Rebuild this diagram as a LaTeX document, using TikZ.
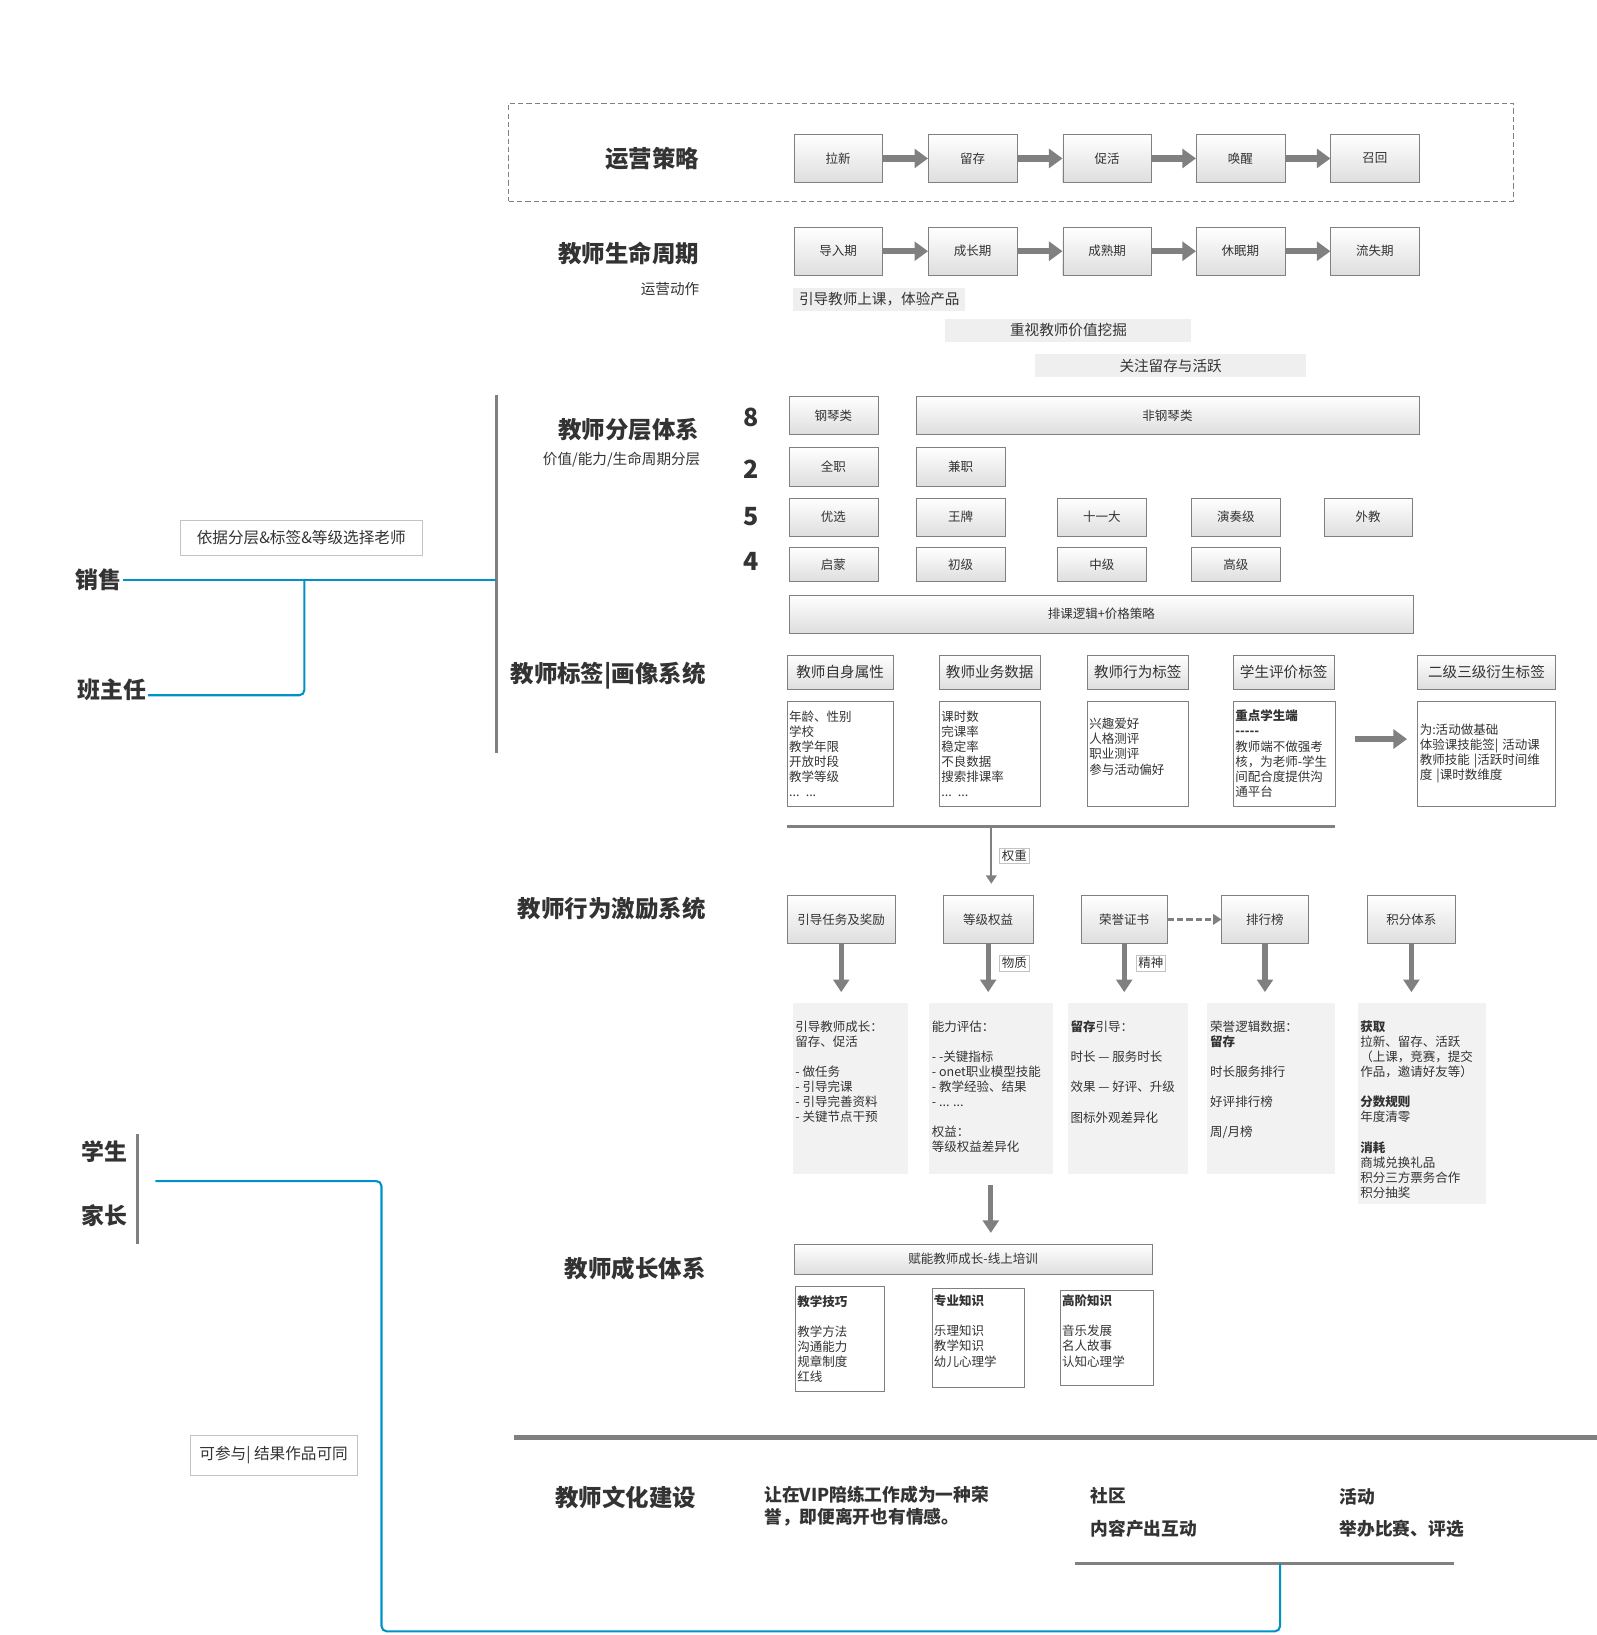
\documentclass[tikz,border=0pt]{standalone}
\usepackage{fontspec}
\setmainfont{Noto Sans CJK SC}
\usetikzlibrary{arrows.meta}
\begin{document}
\begin{tikzpicture}[x=1pt,y=-1pt,
    every node/.style={text=tfarch_text},
    titletext/.style={anchor=east,inner sep=0pt,font=\fontsize{22.5}{26}\selectfont\bfseries},
    subtext/.style={anchor=east,inner sep=0pt,font=\fontsize{14}{16}\selectfont},
    sidetext/.style={inner sep=1pt,font=\fontsize{22}{26}\selectfont\bfseries},
    numtext/.style={inner sep=0pt,font=\fontsize{24}{28}\selectfont\bfseries},
    culttext/.style={anchor=west,align=left,inner sep=0pt,font=\fontsize{17}{21}\selectfont\bfseries},
    stagebox/.style={shape=rectangle,draw=tfarch_line,top color=white,bottom color=tfarch_shade,minimum width=85pt,minimum height=46pt,font=\fontsize{12}{14}\selectfont},
    gridbox/.style={stagebox,minimum height=37pt},
    tagbox/.style={stagebox,minimum height=33pt,font=\fontsize{14}{16}\selectfont},
    trainbox/.style={stagebox,minimum height=28pt},
    bandbox/.style={shape=rectangle,fill=tfarch_band,minimum height=22pt,font=\fontsize{14}{16}\selectfont},
    contbox/.style={shape=rectangle,draw=tfarch_line,fill=white,align=left,inner sep=2pt,font=\fontsize{12}{14.5}\selectfont},
    panelbox/.style={shape=rectangle,fill=tfarch_panel,inner sep=0pt},
    paneltext/.style={anchor=north west,align=left,inner sep=0pt,font=\fontsize{12}{14.5}\selectfont},
    notebox/.style={shape=rectangle,draw=tfarch_note,fill=white,inner sep=2pt,font=\fontsize{12}{14}\selectfont},
    dashframe/.style={shape=rectangle,draw=tfarch_line,line width=1pt,dash pattern=on 5pt off 3pt},
    flowarrow/.style={draw=tfarch_line,line width=6pt,-{Triangle[width=18pt,length=13pt]}},
    downarrow/.style={draw=tfarch_line,line width=5pt,-{Triangle[width=15pt,length=12pt]}},
    thinarrow/.style={draw=tfarch_line,line width=2pt,-{Triangle[width=10pt,length=8pt]}},
    dasharrow/.style={draw=tfarch_line,line width=2.5pt,dash pattern=on 6pt off 3pt,-{Triangle[width=10pt,length=8pt]}},
    busline/.style={draw=tfarch_line,line width=2.5pt},
    hubline/.style={draw=tfarch_line,line width=3pt},
    blueline/.style={draw=tfarch_blue,line width=2pt,rounded corners=5pt}]
    \definecolor{tfarch_text}{RGB}{51,51,51}
    \definecolor{tfarch_line}{RGB}{128,128,128}
    \definecolor{tfarch_shade}{RGB}{222,222,222}
    \definecolor{tfarch_band}{RGB}{239,239,239}
    \definecolor{tfarch_panel}{RGB}{242,242,242}
    \definecolor{tfarch_blue}{RGB}{0,145,200}
    \definecolor{tfarch_note}{RGB}{195,195,195}
    \useasboundingbox (0,0) rectangle (1532,1568.5);

    % section titles
    \node[titletext] (opstitle)   at (671,152)  {运营策略};
    \node[titletext] (lifetitle)  at (671,243)  {教师生命周期};
    \node[subtext]   (lifesub)    at (671,277)  {运营动作};
    \node[titletext] (layertitle) at (671,412)  {教师分层体系};
    \node[subtext]   (layersub)   at (672,441)  {价值/能力/生命周期分层};
    \node[titletext] (tagtitle)   at (677,648)  {教师标签|画像系统};
    \node[titletext] (inctitle)   at (677,872)  {教师行为激励系统};
    \node[titletext] (growtitle)  at (677,1217) {教师成长体系};
    \node[titletext] (culttitle)  at (668,1437) {教师文化建设};

    % operations strategy
    \node[dashframe,minimum width=964pt,minimum height=94pt] (opsframe) at (970,146) {};
    \node[stagebox] (opsA) at (804,152)  {拉新};
    \node[stagebox] (opsB) at (933,152)  {留存};
    \node[stagebox] (opsC) at (1062,152) {促活};
    \node[stagebox] (opsD) at (1190,152) {唤醒};
    \node[stagebox] (opsE) at (1319,152) {召回};
    \draw[flowarrow] (opsA) -- (opsB);
    \draw[flowarrow] (opsB) -- (opsC);
    \draw[flowarrow] (opsC) -- (opsD);
    \draw[flowarrow] (opsD) -- (opsE);

    % teacher life cycle
    \node[stagebox] (lifeA) at (804,241)  {导入期};
    \node[stagebox] (lifeB) at (933,241)  {成长期};
    \node[stagebox] (lifeC) at (1062,241) {成熟期};
    \node[stagebox] (lifeD) at (1190,241) {休眠期};
    \node[stagebox] (lifeE) at (1319,241) {流失期};
    \draw[flowarrow] (lifeA) -- (lifeB);
    \draw[flowarrow] (lifeB) -- (lifeC);
    \draw[flowarrow] (lifeC) -- (lifeD);
    \draw[flowarrow] (lifeD) -- (lifeE);
    \node[bandbox,minimum width=165pt] (actA) at (843.5,287) {引导教师上课，体验产品};
    \node[bandbox,minimum width=236pt] (actB) at (1025,317)  {重视教师价值挖掘};
    \node[bandbox,minimum width=260pt] (actC) at (1123,351)  {关注留存与活跃};

    % layers
    \node[numtext] (levelA) at (721,400) {8};
    \node[numtext] (levelB) at (721,450) {2};
    \node[numtext] (levelC) at (721,496) {5};
    \node[numtext] (levelD) at (721,539) {4};
    \node[gridbox] (pianoA) at (799.5,398.5) {钢琴类};
    \node[gridbox,minimum width=482pt] (pianoB) at (1120,398.5) {非钢琴类};
    \node[gridbox] (fullA) at (799.5,447.5) {全职};
    \node[gridbox] (fullB) at (921.5,447.5) {兼职};
    \node[gridbox,minimum height=36pt] (rankA) at (799.5,496) {优选};
    \node[gridbox,minimum height=36pt] (rankB) at (921.5,496) {王牌};
    \node[gridbox,minimum height=36pt] (rankC) at (1057,496)  {十一大};
    \node[gridbox,minimum height=36pt] (rankD) at (1185.5,496) {演奏级};
    \node[gridbox,minimum height=36pt] (rankE) at (1312.5,496) {外教};
    \node[gridbox,minimum height=33pt] (stepA) at (799.5,541.5) {启蒙};
    \node[gridbox,minimum height=33pt] (stepB) at (921.5,541.5) {初级};
    \node[gridbox,minimum height=33pt] (stepC) at (1057,541.5)  {中级};
    \node[gridbox,minimum height=33pt] (stepD) at (1185.5,541.5) {高级};
    \node[gridbox,minimum width=599pt,minimum height=36pt] (pricing) at (1056.5,589) {排课逻辑+价格策略};

    % tags and portrait
    \node[tagbox,minimum width=102pt] (tagA) at (806,645)    {教师自身属性};
    \node[tagbox,minimum width=97pt]  (tagB) at (949.5,645)  {教师业务数据};
    \node[tagbox,minimum width=97pt]  (tagC) at (1091.5,645) {教师行为标签};
    \node[tagbox,minimum width=97pt]  (tagD) at (1231.5,645) {学生评价标签};
    \node[tagbox,minimum width=132pt] (tagE) at (1426,645)   {二级三级衍生标签};
    \node[contbox,text width=98pt,minimum height=100pt] (contA) at (806,723) {年龄、性别\\学校\\教学年限\\开放时段\\教学等级\\... ...};
    \node[contbox,text width=93pt,minimum height=100pt] (contB) at (949.5,723) {课时数\\完课率\\稳定率\\不良数据\\搜索排课率\\... ...};
    \node[contbox,text width=93pt,minimum height=100pt] (contC) at (1091.5,723) {兴趣爱好\\人格测评\\职业测评\\参与活动偏好\\~};
    \node[contbox,text width=94pt,minimum height=100pt] (contD) at (1232,723) {\textbf{重点学生端}\\\textbf{-{}-{}-{}-{}-}\\教师端不做强考\\核，为老师-学生\\间配合度提供沟\\通平台};
    \node[contbox,text width=128pt,minimum height=100pt] (contE) at (1426,723) {为:活动做基础\\体验课技能签|~活动课\\教师技能~|活跃时间维\\度~|课时数维度};
    \draw[flowarrow] ([xshift=19pt,yshift=14pt]contD.east) -- ([xshift=-10pt,yshift=14pt]contE.west);
    \coordinate (busL) at (755,793);
    \coordinate (busR) at (1281,793);
    \coordinate (busM) at (951,793);
    \draw[busline] (busL) -- (busR);

    % incentives
    \node[stagebox,minimum width=104pt] (incA) at (807,882)  {引导任务及奖励};
    \node[stagebox,minimum width=86pt]  (incB) at (948,882)  {等级权益};
    \node[stagebox,minimum width=83pt]  (incC) at (1078.5,882) {荣誉证书};
    \node[stagebox,minimum width=83pt]  (incD) at (1213.5,882) {排行榜};
    \node[stagebox,minimum width=84pt]  (incE) at (1354,882) {积分体系};
    \draw[thinarrow,shorten >=11pt] (busM) -- (busM |- incB.north);
    \node[notebox] (weightnote) at (973,821) {权重};
    \draw[dasharrow] (incC) -- (incD);
    \node[panelbox,minimum width=110pt,minimum height=164pt] (panA) at (816,1044)    {};
    \node[panelbox,minimum width=119pt,minimum height=164pt] (panB) at (950.5,1044)  {};
    \node[panelbox,minimum width=115pt,minimum height=164pt] (panC) at (1082.5,1044) {};
    \node[panelbox,minimum width=123pt,minimum height=164pt] (panD) at (1219.5,1044) {};
    \node[panelbox,minimum width=123pt,minimum height=193pt] (panE) at (1364.5,1058.5) {};
    \draw[downarrow,shorten >=10pt] (incA.south) -- (incA.south |- panA.north);
    \draw[downarrow,shorten >=10pt] (incB.south) -- (incB.south |- panB.north);
    \draw[downarrow,shorten >=10pt] (incC.south) -- (incC.south |- panC.north);
    \draw[downarrow,shorten >=10pt] (incD.south) -- (incD.south |- panD.north);
    \draw[downarrow,shorten >=10pt] (incE.south) -- (incE.south |- panE.north);
    \node[notebox] (goodsnote)  at (973,924)  {物质};
    \node[notebox] (spiritnote) at (1104,924) {精神};
    \node[paneltext] (panAtext) at ([xshift=2pt,yshift=-17pt]panA.north west) {引导教师成长：\\留存、促活\\[14.5pt]- 做任务\\- 引导完课\\- 引导完善资料\\- 关键节点干预};
    \node[paneltext] (panBtext) at ([xshift=3pt,yshift=-17pt]panB.north west) {能力评估：\\[14.5pt]- -关键指标\\- onet职业模型技能\\- 教学经验、结果\\- ... ...\\[14.5pt]权益：\\等级权益差异化};
    \node[paneltext] (panCtext) at ([xshift=2pt,yshift=-17pt]panC.north west) {\textbf{留存}引导：\\[14.5pt]时长 — 服务时长\\[14.5pt]效果 — 好评、升级\\[14.5pt]图标外观差异化};
    \node[paneltext] (panDtext) at ([xshift=3pt,yshift=-17pt]panD.north west) {荣誉逻辑数据：\\\textbf{留存}\\[14.5pt]时长服务排行\\[14.5pt]好评排行榜\\[14.5pt]周/月榜};
    \node[paneltext] (panEtext) at ([xshift=2pt,yshift=-17pt]panE.north west) {\textbf{获取}\\拉新、留存、活跃\\（上课，竞赛，提交\\作品，邀请好友等）\\[14.5pt]\textbf{分数规则}\\年度清零\\[14.5pt]\textbf{消耗}\\商城兑换礼品\\积分三方票务合作\\积分抽奖};

    % growth
    \node[trainbox,minimum width=343pt] (train) at (933.5,1208) {赋能教师成长-线上培训};
    \draw[downarrow,shorten <=11pt,shorten >=11pt] (panB.south) -- (panB.south |- train.north);
    \node[contbox,text width=81pt,minimum height=101pt] (growA) at (805.5,1284.5) {\textbf{教学技巧}\\[14.5pt]教学方法\\沟通能力\\规章制度\\红线};
    \node[contbox,text width=85pt,minimum height=95pt]  (growB) at (938.5,1283.5) {\textbf{专业知识}\\[14.5pt]乐理知识\\教学知识\\幼儿心理学\\~};
    \node[contbox,text width=85pt,minimum height=91pt]  (growC) at (1061.5,1283.5) {\textbf{高阶知识}\\[14.5pt]音乐发展\\名人故事\\认知心理学\\~};

    % culture
    \coordinate (cultL) at (493,1379);
    \coordinate (cultR) at (1532,1379);
    \draw[draw=tfarch_line,line width=4pt] (cultL) -- (cultR);
    \node[culttext] (motto) at (733,1444.5) {让在VIP陪练工作成为一种荣\\誉，即便离开也有情感。};
    \node[culttext] (commA) at (1046,1435) {社区};
    \node[culttext] (commB) at (1046,1467) {内容产出互动};
    \node[culttext] (eventA) at (1285,1436) {活动};
    \node[culttext] (eventB) at (1285,1467) {举办比赛、评选};
    \coordinate (commL) at (1031,1500);
    \coordinate (commR) at (1395,1500);
    \coordinate (commJ) at (1228,1500);
    \draw[busline] (commL) -- (commR);

    % roles on the left
    \coordinate (hubT) at (476,379);
    \coordinate (hubB) at (476,722);
    \draw[hubline] (hubT) -- (hubB);
    \node[sidetext,anchor=east] (sale) at (118,556) {销售};
    \node[sidetext,anchor=east] (head) at (142,662) {班主任};
    \node[notebox,minimum width=232pt,minimum height=34pt,font=\fontsize{15}{17}\selectfont] (salenote) at (289,516) {依据分层\&标签\&等级选择老师};
    \coordinate (fork) at (292,556);
    \draw[blueline] (sale.east) -- (sale.east -| hubT);
    \draw[blueline] ([yshift=-5pt]head.east) -| (fork);
    \node[sidetext] (student) at (100,1105) {学生};
    \node[sidetext] (parent)  at (100,1166) {家长};
    \coordinate (famT) at (132,1088);
    \coordinate (famB) at (132,1193);
    \draw[hubline] (famT) -- (famB);
    \coordinate (famR) at (149,1133);
    \draw[blueline] (famR) -| (366,1565) -| (commJ);
    \node[notebox,minimum width=161pt,minimum height=38pt,font=\fontsize{15}{17}\selectfont] (familynote) at (262.5,1396) {可参与|~结果作品可同};
\end{tikzpicture}
\end{document}
